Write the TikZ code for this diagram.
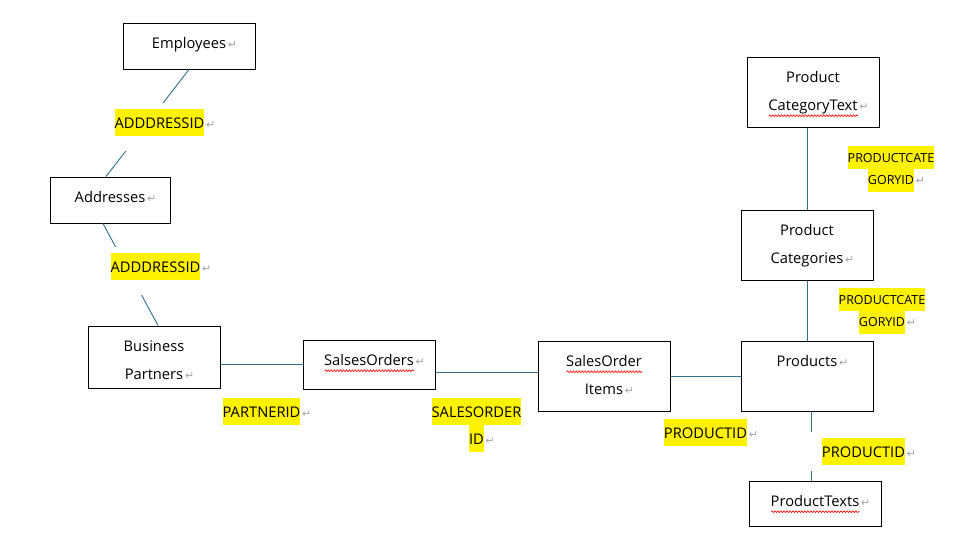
\documentclass[tikz,border=0pt]{standalone}
\usepackage{fontspec}
\usepackage{xcolor}
\setmainfont{Open Sans}
\newfontfamily\symfont{DejaVu Sans}
\usetikzlibrary{calc, positioning, decorations.pathmorphing}
\definecolor{linkblue}{HTML}{31708F}
\newcommand{\ret}{\rlap{\textcolor{black!35}{\symfont\fontsize{11}{11}\selectfont\,↵}}}
\newcommand{\hl}[1]{{\setlength{\fboxsep}{0pt}\colorbox{yellow}{\strut #1}}}
% text of a table box, set from its top edge
\newcommand{\tbl}[2]{\parbox[c][#1][t]{110pt}{\centering\rule{0pt}{25.7pt}#2}}
\newsavebox{\squigbox}
\newcommand{\squig}[1]{\sbox{\squigbox}{#1}%
  \smash{\rlap{\raisebox{-5pt}{\tikz[baseline=0pt]\draw[red, line width=0.6pt, decorate,
    decoration={snake, amplitude=0.9pt, segment length=3pt}] (0pt,0pt) -- (\wd\squigbox,0pt);}}}%
  \usebox{\squigbox}}

\begin{document}
\begin{tikzpicture}[x=1pt, y=-1pt,
    ent/.style={draw, line width=1pt, inner sep=0pt, minimum width=132pt,
      font=\fontsize{14.7}{28}\selectfont},
    key/.style={inner sep=0pt, anchor=north, align=center,
      font=\fontsize{14.7}{27}\selectfont},
    small/.style={font=\fontsize{12.5}{22.8}\selectfont},
    gap/.style={fill=white, inner ysep=6pt, inner xsep=4pt},
    link/.style={draw=linkblue, line width=0.9pt}]
  \useasboundingbox (0,0) rectangle (970,547);

  % tables
  \draw node[ent] (emp) at (189,46) {\tbl{46pt}{Employees\ret}};
  \draw node[ent, minimum width=120pt] (addr) at (110,200) {\tbl{46pt}{Addresses\ret}};
  \draw node[ent] (bp) at (154,357) {\tbl{62pt}{Business\\Partners\ret}};
  \draw node[ent] (so) at (369,364.5) {\tbl{49pt}{\squig{SalsesOrders}\ret}};
  \draw node[ent] (soi) at (604,376) {\tbl{70pt}{\squig{SalesOrder}\\Items\ret}};
  \draw node[ent] (prod) at (807,376) {\tbl{70pt}{Products\ret}};
  \draw node[ent] (pc) at (807,245) {\tbl{70pt}{Product\\Categories\ret}};
  \draw node[ent] (pct) at (813,92) {\tbl{70pt}{Product\\\squig{CategoryText}\ret}};
  \draw node[ent] (pt) at (815,503.5) {\tbl{45pt}{\squig{ProductTexts}\ret}};

  % relations
  \draw[link] (emp.south) -- ([xshift=-4pt]addr.north);
  \draw[link] ([xshift=-7pt]addr.south) -- ([xshift=4pt]bp.north);
  \draw[link] (so.west) -- (so.west -| bp.east);
  \draw[link] ([yshift=-7.5pt]so.east) -- ([yshift=4pt]soi.west);
  \draw[link] (soi.east) -- (prod.west);
  \draw[link] (pc.north) -- (pc.north |- pct.south);
  \draw[link] (pc.south) -- (prod.north);
  \draw[link] ([xshift=4pt]prod.south) -- ([xshift=-4pt]pt.north);

  % keys
  \draw node[key, gap, text depth=16.5pt] (k1) at (159.5,103) {\hl{ADDDRESSID}\ret};
  \draw node[key, gap, text depth=16.5pt] (k2) at (155.5,247) {\hl{ADDDRESSID}\ret};
  \draw node[key] (k3) at (261.5,398) {\hl{PARTNERID}\ret};
  \draw node[key] (k4) at (476.5,398) {\hl{SALESORDER}\\\hl{ID}\ret};
  \draw node[key] (k5) at (705.5,419) {\hl{PRODUCTID}\ret};
  \draw node[key, gap, inner xsep=12pt] (k6) at (863.5,432) {\hl{PRODUCTID}\ret};
  \draw node[key, small] (k7) at (891,146) {\hl{PRODUCTCATE}\\\hl{GORYID}\ret};
  \draw node[key, small] (k8) at (882,288) {\hl{PRODUCTCATE}\\\hl{GORYID}\ret};
\end{tikzpicture}
\end{document}
